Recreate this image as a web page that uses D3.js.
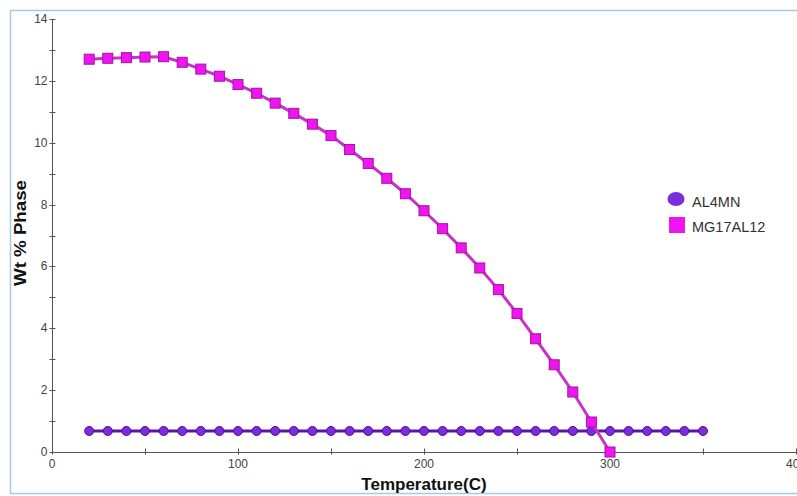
<!DOCTYPE html>
<html>
<head>
<meta charset="utf-8">
<script src="https://cdn.jsdelivr.net/npm/d3@7"></script>
<style>
  body { margin: 0; background: #fff; }
  svg { display: block; font-family: Arial, "Liberation Sans", sans-serif; }
</style>
</head>
<body>
<div id="chart"></div>
<script>
var width = 797
var height = 496
var margin = { top: 19, left: 52, right: 1, bottom: 44 }

// temperatures (C)
var tempsMg = [20, 30, 40, 50, 60, 70, 80, 90, 100, 110, 120, 130, 140, 150, 160, 170,
  180, 190, 200, 210, 220, 230, 240, 250, 260, 270, 280, 290, 300]
var mg17al12 = [12.7, 12.73, 12.75, 12.77, 12.78, 12.6, 12.38, 12.15, 11.88, 11.6, 11.28,
  10.95, 10.6, 10.23, 9.78, 9.33, 8.85, 8.35, 7.8, 7.22, 6.6, 5.95, 5.25, 4.48, 3.66,
  2.82, 1.94, 0.97, 0]
var tempsAl = [20, 30, 40, 50, 60, 70, 80, 90, 100, 110, 120, 130, 140, 150, 160, 170,
  180, 190, 200, 210, 220, 230, 240, 250, 260, 270, 280, 290, 300, 310, 320, 330, 340, 350]
var al4mn = [0.68, 0.68, 0.68, 0.68, 0.68, 0.68, 0.68, 0.68, 0.68, 0.68, 0.68, 0.68,
  0.68, 0.68, 0.68, 0.68, 0.68, 0.68, 0.68, 0.68, 0.68, 0.68, 0.68, 0.68, 0.68, 0.68,
  0.68, 0.68, 0.68, 0.68, 0.68, 0.68, 0.68, 0.68]

var xTicks = [0, 100, 200, 300, 400]
var yTicks = [0, 2, 4, 6, 8, 10, 12, 14]

var series = [
  { name: 'AL4MN', x: tempsAl, y: al4mn, line: '#5b14a6', fill: '#7b2ddc', stroke: '#4e0f90', shape: 'circle' },
  { name: 'MG17AL12', x: tempsMg, y: mg17al12, line: '#c832c8', fill: '#f014f0', stroke: '#a312a3', shape: 'square' }
]

var svg = d3.select('#chart').append('svg')
  .attr('width', width)
  .attr('height', height)

// outer frame
svg.append('rect')
  .attr('x', 10.5).attr('y', 10.5)
  .attr('width', width).attr('height', 483)
  .attr('fill', 'none')
  .attr('stroke', '#a9c8e8')
  .attr('stroke-width', 1.5)

var x = d3.scaleLinear().domain([0, 400]).range([margin.left, 796])
var y = d3.scaleLinear().domain([0, 14]).range([452, margin.top])

var axisColor = '#555'

// y axis
var gy = svg.append('g').attr('transform', 'translate(' + (x(0) + 0.5) + ',0)')
gy.append('line').attr('y1', y(14)).attr('y2', y(0)).attr('stroke', axisColor)
gy.selectAll('.tk').data(d3.range(0, 15, 1)).enter().append('line')
  .attr('x1', -3).attr('x2', 3)
  .attr('y1', d => Math.round(y(d)) + 0.5).attr('y2', d => Math.round(y(d)) + 0.5)
  .attr('stroke', axisColor)
gy.selectAll('text').data(yTicks).enter().append('text')
  .attr('x', -5).attr('y', d => y(d) + 4)
  .attr('text-anchor', 'end')
  .attr('font-size', 12).attr('fill', '#444')
  .text(d => d)

// x axis
var gx = svg.append('g').attr('transform', 'translate(0,' + (y(0) + 0.5) + ')')
gx.append('line').attr('x1', x(0)).attr('x2', x(400)).attr('stroke', axisColor)
gx.selectAll('.tk').data(d3.range(0, 401, 50)).enter().append('line')
  .attr('x1', d => Math.round(x(d)) + 0.5).attr('x2', d => Math.round(x(d)) + 0.5)
  .attr('y1', -4).attr('y2', 2)
  .attr('stroke', axisColor)
gx.selectAll('text').data(xTicks).enter().append('text')
  .attr('x', d => x(d)).attr('y', 15.5)
  .attr('text-anchor', 'middle')
  .attr('font-size', 12).attr('fill', '#444')
  .text(d => d)

// axis titles
svg.append('text')
  .attr('transform', 'translate(26,' + 233 + ') rotate(-90)')
  .attr('text-anchor', 'middle')
  .attr('font-size', 16).attr('font-weight', 'bold').attr('fill', '#111')
  .attr('textLength', 106).attr('lengthAdjust', 'spacingAndGlyphs')
  .text('Wt % Phase')
svg.append('text')
  .attr('x', (x(0) + x(400)) / 2).attr('y', 490)
  .attr('text-anchor', 'middle')
  .attr('font-size', 17).attr('font-weight', 'bold').attr('fill', '#111')
  .text('Temperature(C)')

var line = d3.line()
  .x(d => x(d[0]))
  .y(d => y(d[1]))

series.forEach(function(s) {
  var pts = s.x.map((t, i) => [t, s.y[i]])
  var g = svg.append('g')
  g.append('path')
    .datum(pts)
    .attr('d', line)
    .attr('fill', 'none')
    .attr('stroke', s.line)
    .attr('stroke-width', 3)
  if (s.shape === 'circle') {
    g.selectAll('circle').data(pts).enter().append('circle')
      .attr('cx', d => x(d[0])).attr('cy', d => y(d[1]))
      .attr('r', 4.5)
      .attr('fill', s.fill).attr('stroke', s.stroke).attr('stroke-width', 1)
  } else {
    g.selectAll('rect').data(pts).enter().append('rect')
      .attr('x', d => x(d[0]) - 5).attr('y', d => y(d[1]) - 5)
      .attr('width', 10).attr('height', 10)
      .attr('fill', s.fill).attr('stroke', s.stroke).attr('stroke-width', 1)
  }
})

// legend
var legend = svg.append('g').attr('transform', 'translate(667,192)')
series.forEach(function(s, i) {
  var row = legend.append('g').attr('transform', 'translate(0,' + (i * 25) + ')')
  if (s.shape === 'circle') {
    row.append('ellipse').attr('cx', 9).attr('cy', 7).attr('rx', 8.5).attr('ry', 7).attr('fill', s.fill)
  } else {
    row.append('rect').attr('x', 2).attr('y', 0).attr('width', 16).attr('height', 16).attr('fill', s.fill)
  }
  row.append('text')
    .attr('x', 25).attr('y', 15)
    .attr('font-size', 14.5).attr('fill', '#333')
    .text(s.name)
})
</script>
</body>
</html>
